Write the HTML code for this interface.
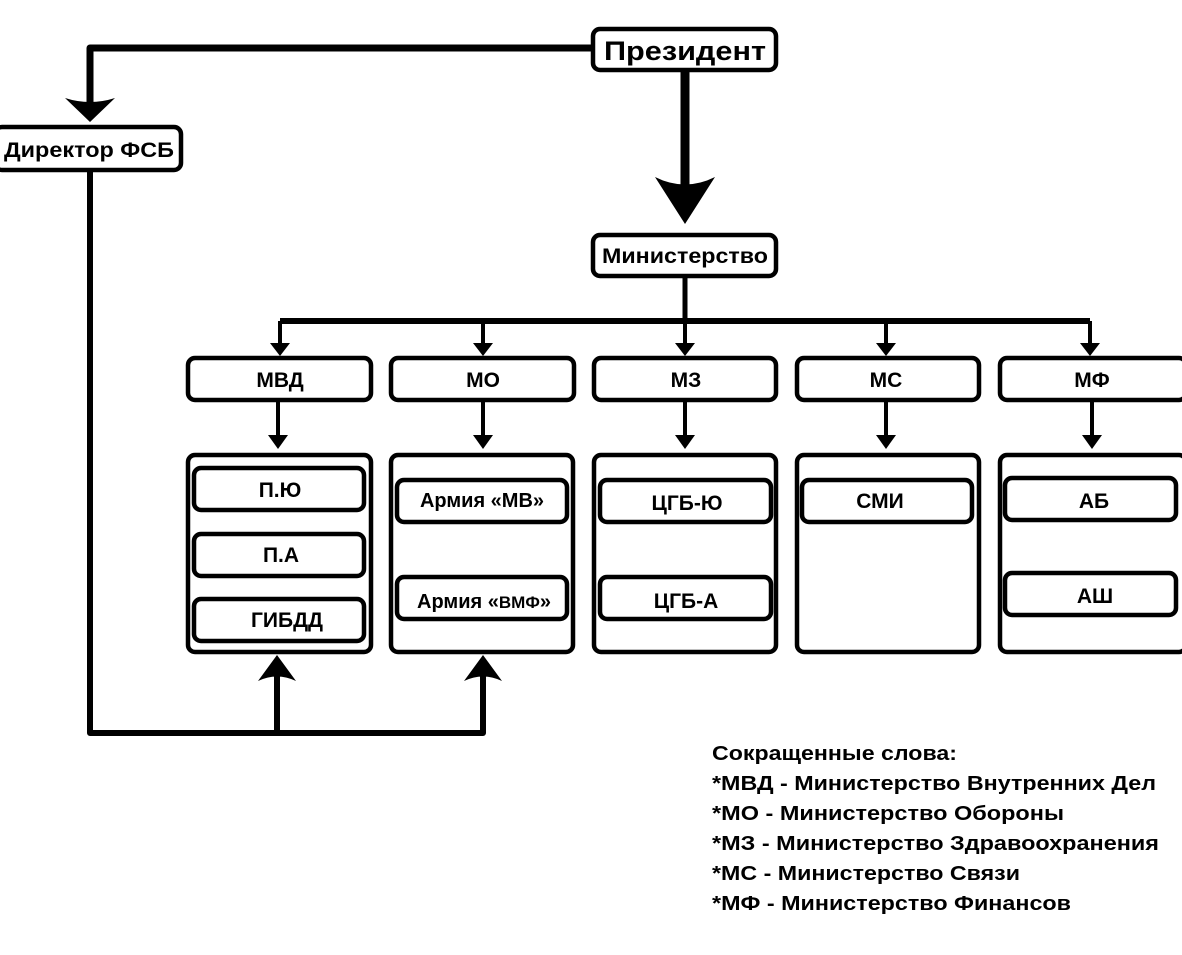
<!DOCTYPE html>
<html><head><meta charset="utf-8"><style>
body{margin:0;background:#fff;}
svg text{font-family:"Liberation Sans",sans-serif;font-weight:bold;fill:#000;}
</style></head><body>
<svg width="1182" height="950" xmlns="http://www.w3.org/2000/svg">
<g fill="none" stroke="#000" stroke-linejoin="round">
<!-- President to FSB -->
<polyline points="591,48 90,48 90,110" stroke-width="7"/>
<!-- FSB down and to boxes -->
<polyline points="90,171 90,733 483,733 483,670" stroke-width="6"/>
<line x1="277" y1="733" x2="277" y2="670" stroke-width="6"/>
<!-- President down -->
<line x1="685" y1="71" x2="685" y2="195" stroke-width="9"/>
<line x1="685" y1="277" x2="685" y2="321" stroke-width="5"/>
<line x1="280" y1="321" x2="1090" y2="321" stroke-width="6"/>
<g stroke-width="4">
<line x1="280" y1="321" x2="280" y2="348"/><line x1="483" y1="321" x2="483" y2="348"/>
<line x1="685" y1="321" x2="685" y2="348"/><line x1="886" y1="321" x2="886" y2="348"/>
<line x1="1090" y1="321" x2="1090" y2="348"/>
<line x1="278" y1="401" x2="278" y2="440"/><line x1="483" y1="401" x2="483" y2="440"/>
<line x1="685" y1="401" x2="685" y2="440"/><line x1="886" y1="401" x2="886" y2="440"/>
<line x1="1092" y1="401" x2="1092" y2="440"/>
</g>
<!-- boxes -->
<g stroke-width="4.5">
<rect x="593" y="29" width="183" height="41" rx="7"/>
<rect x="-5" y="127" width="186" height="43" rx="7"/>
<rect x="593" y="235" width="183" height="41" rx="7"/>
<rect x="188" y="358" width="183" height="42" rx="7"/>
<rect x="391" y="358" width="183" height="42" rx="7"/>
<rect x="594" y="358" width="182" height="42" rx="7"/>
<rect x="797" y="358" width="182" height="42" rx="7"/>
<rect x="1000" y="358" width="186" height="42" rx="7"/>
<rect x="188" y="455" width="183" height="197" rx="7"/>
<rect x="391" y="455" width="182" height="197" rx="7"/>
<rect x="594" y="455" width="182" height="197" rx="7"/>
<rect x="797" y="455" width="182" height="197" rx="7"/>
<rect x="1000" y="455" width="186" height="197" rx="7"/>
<rect x="194" y="468" width="170" height="42" rx="7"/>
<rect x="194" y="534" width="170" height="42" rx="7"/>
<rect x="194" y="599" width="170" height="42" rx="7"/>
<rect x="397" y="480" width="170" height="42" rx="7"/>
<rect x="397" y="577" width="170" height="42" rx="7"/>
<rect x="600" y="480" width="171" height="42" rx="7"/>
<rect x="600" y="577" width="171" height="42" rx="7"/>
<rect x="802" y="480" width="170" height="42" rx="7"/>
<rect x="1005" y="478" width="171" height="42" rx="7"/>
<rect x="1005" y="573" width="171" height="42" rx="7"/>
</g>
</g>
<!-- arrowheads -->
<g fill="#000">
<path d="M90,122 L65,98 Q90,106 115,98 Z"/>
<path d="M685,224 L655,177 Q685,192 715,177 Z"/>
<path d="M277,655 L258,681 Q277,672 296,681 Z"/>
<path d="M483,655 L464,681 Q483,672 502,681 Z"/>
<g>
<path d="M280,356 L270,343 L290,343 Z"/><path d="M483,356 L473,343 L493,343 Z"/>
<path d="M685,356 L675,343 L695,343 Z"/><path d="M886,356 L876,343 L896,343 Z"/>
<path d="M1090,356 L1080,343 L1100,343 Z"/>
<path d="M278,449 L268,435 L288,435 Z"/><path d="M483,449 L473,435 L493,435 Z"/>
<path d="M685,449 L675,435 L695,435 Z"/><path d="M886,449 L876,435 L896,435 Z"/>
<path d="M1092,449 L1082,435 L1102,435 Z"/>
</g>
</g>
<g text-anchor="middle">
<text x="685" y="60" font-size="27" textLength="162" lengthAdjust="spacingAndGlyphs">Президент</text>
<text x="89" y="157" font-size="21" textLength="170" lengthAdjust="spacingAndGlyphs">Директор ФСБ</text>
<text x="685" y="263" font-size="21" textLength="166" lengthAdjust="spacingAndGlyphs">Министерство</text>
<text x="280" y="387" font-size="21">МВД</text>
<text x="483" y="387" font-size="21">МО</text>
<text x="686" y="387" font-size="21">МЗ</text>
<text x="886" y="387" font-size="21">МС</text>
<text x="1092" y="387" font-size="21">МФ</text>
<text x="280" y="497" font-size="21">П.Ю</text>
<text x="281" y="562" font-size="21">П.А</text>
<text x="287" y="627" font-size="21">ГИБДД</text>
<text x="482" y="507" font-size="20">Армия «МВ»</text>
<text x="484" y="608" font-size="20">Армия «<tspan font-size="17">ВМФ</tspan>»</text>
<text x="687" y="510" font-size="21">ЦГБ-Ю</text>
<text x="686" y="608" font-size="21">ЦГБ-А</text>
<text x="880" y="508" font-size="21">СМИ</text>
<text x="1094" y="508" font-size="21">АБ</text>
<text x="1095" y="603" font-size="21">АШ</text>
</g>
<g font-size="20">
<text x="712" y="760" textLength="245" lengthAdjust="spacingAndGlyphs">Сокращенные слова:</text>
<text x="712" y="790" textLength="444" lengthAdjust="spacingAndGlyphs">*МВД - Министерство Внутренних Дел</text>
<text x="712" y="820" textLength="352" lengthAdjust="spacingAndGlyphs">*МО - Министерство Обороны</text>
<text x="712" y="850" textLength="447" lengthAdjust="spacingAndGlyphs">*МЗ - Министерство Здравоохранения</text>
<text x="712" y="880" textLength="308" lengthAdjust="spacingAndGlyphs">*МС - Министерство Связи</text>
<text x="712" y="910" textLength="359" lengthAdjust="spacingAndGlyphs">*МФ - Министерство Финансов</text>
</g>
</svg>
</body></html>
